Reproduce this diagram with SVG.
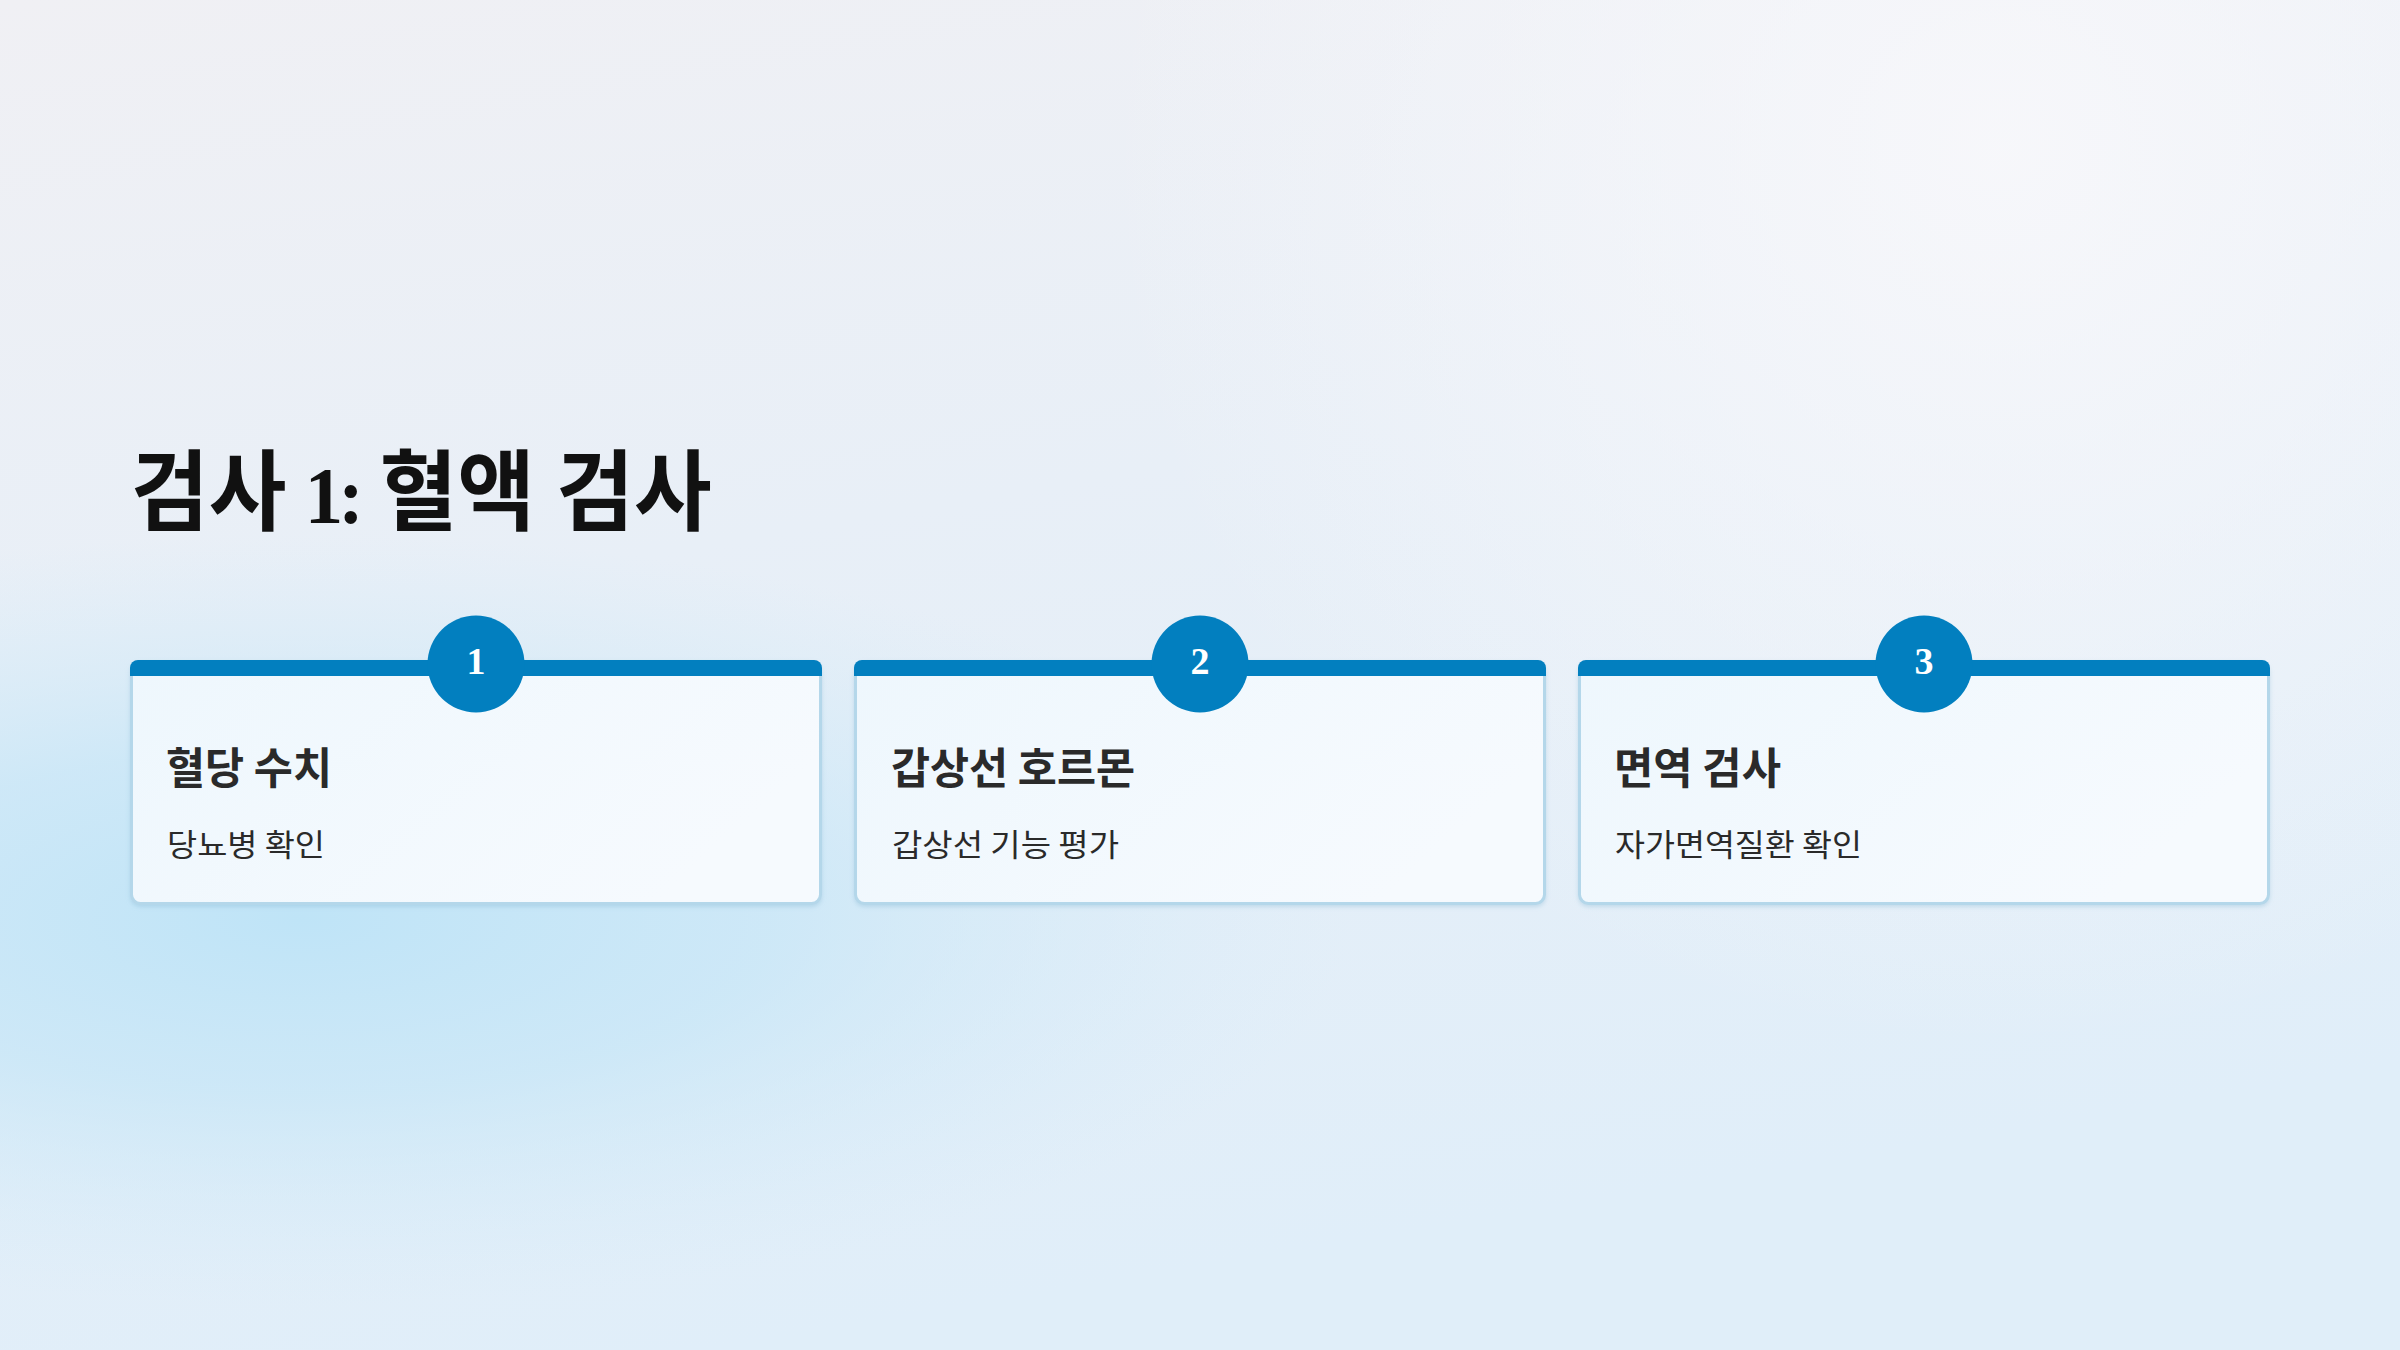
<svg xmlns="http://www.w3.org/2000/svg" width="2400" height="1350" viewBox="0 0 2400 1350">
  <defs>
    <linearGradient id="bgBase" x1="0" y1="0" x2="0.3" y2="1">
      <stop offset="0" stop-color="#f0f0f4"/>
      <stop offset="0.45" stop-color="#e8eff7"/>
      <stop offset="1" stop-color="#e0eef9"/>
    </linearGradient>
    <radialGradient id="blob" cx="300" cy="920" r="700" gradientUnits="userSpaceOnUse" gradientTransform="translate(300 920) scale(1.5 0.55) translate(-300 -920)">
      <stop offset="0" stop-color="#bfe4f7" stop-opacity="1"/>
      <stop offset="0.45" stop-color="#c6e6f7" stop-opacity="0.75"/>
      <stop offset="1" stop-color="#d4ebf8" stop-opacity="0"/>
    </radialGradient>
    <radialGradient id="topRight" cx="2000" cy="150" r="900" gradientUnits="userSpaceOnUse">
      <stop offset="0" stop-color="#f8f8fb" stop-opacity="0.9"/>
      <stop offset="1" stop-color="#f8f8fb" stop-opacity="0"/>
    </radialGradient>
    <linearGradient id="cardFill" x1="0" y1="0" x2="1" y2="0.4">
      <stop offset="0" stop-color="#eef7fd"/>
      <stop offset="1" stop-color="#f6fafe"/>
    </linearGradient>
    <filter id="shadow" x="-5%" y="-5%" width="110%" height="115%">
      <feDropShadow dx="0" dy="2" stdDeviation="2" flood-color="#7fb3d0" flood-opacity="0.35"/>
    </filter>
    <style>
      .card { fill: url(#cardFill); stroke: #b4d7ea; stroke-width: 3; }
      .bar { fill: #027fbf; }
      .badge { fill: #027fbf; }
      .num { font-family: "Liberation Serif", "DejaVu Serif", serif; font-weight: 700; font-size: 38px; fill: #ffffff; text-anchor: middle; }
      .ctitle { font-family: "Noto Sans CJK KR", "Noto Sans", sans-serif; font-weight: 700; font-size: 43px; fill: #2a2a2a; }
      .csub { font-family: "Noto Sans CJK KR", "Noto Sans", sans-serif; font-weight: 400; font-size: 31px; fill: #2a2a2a; }
      .title { font-family: "Liberation Serif", "Noto Sans CJK KR", serif; font-weight: 700; font-size: 88px; fill: #111111; }
    </style>
  </defs>

  <rect x="0" y="0" width="2400" height="1350" fill="url(#bgBase)"/>
  <rect x="0" y="0" width="2400" height="1350" fill="url(#topRight)"/>
  <rect x="0" y="0" width="2400" height="1350" fill="url(#blob)"/>

  <text class="title" transform="translate(131 523) scale(0.96 1)" x="0" y="0"><tspan x="0">검사 </tspan><tspan x="181" font-size="80" letter-spacing="-5">1: </tspan><tspan x="259">혈액 검사</tspan></text>

  <g id="card1">
    <rect class="card" x="131.5" y="661.5" width="689" height="242" rx="9" filter="url(#shadow)"/>
    <path class="bar" d="M130 676 V668 a8 8 0 0 1 8 -8 H814 a8 8 0 0 1 8 8 V676 Z"/>
    <circle class="badge" cx="476" cy="664" r="48.5"/>
    <text class="num" x="476" y="674">1</text>
    <text class="ctitle" x="166" y="784" textLength="166" lengthAdjust="spacingAndGlyphs">혈당 수치</text>
    <text class="csub" x="167" y="856" textLength="158" lengthAdjust="spacingAndGlyphs">당뇨병 확인</text>
  </g>

  <g id="card2">
    <rect class="card" x="855.5" y="661.5" width="689" height="242" rx="9" filter="url(#shadow)"/>
    <path class="bar" d="M854 676 V668 a8 8 0 0 1 8 -8 H1538 a8 8 0 0 1 8 8 V676 Z"/>
    <circle class="badge" cx="1200" cy="664" r="48.5"/>
    <text class="num" x="1200" y="674">2</text>
    <text class="ctitle" x="891" y="784" textLength="244" lengthAdjust="spacingAndGlyphs">갑상선 호르몬</text>
    <text class="csub" x="892" y="856" textLength="227" lengthAdjust="spacingAndGlyphs">갑상선 기능 평가</text>
  </g>

  <g id="card3">
    <rect class="card" x="1579.5" y="661.5" width="689" height="242" rx="9" filter="url(#shadow)"/>
    <path class="bar" d="M1578 676 V668 a8 8 0 0 1 8 -8 H2262 a8 8 0 0 1 8 8 V676 Z"/>
    <circle class="badge" cx="1924" cy="664" r="48.5"/>
    <text class="num" x="1924" y="674">3</text>
    <text class="ctitle" x="1614" y="784" textLength="167" lengthAdjust="spacingAndGlyphs">면역 검사</text>
    <text class="csub" x="1615" y="856" textLength="247" lengthAdjust="spacingAndGlyphs">자가면역질환 확인</text>
  </g>

  <g id="connectors"/>
</svg>
